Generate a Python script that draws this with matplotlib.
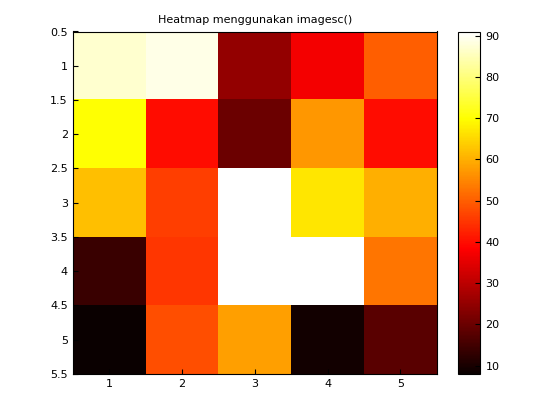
import numpy as np
import matplotlib.pyplot as plt

row1 = [87, 89, 25, 37, 50]
row2 = [70, 40, 20, 57, 40]
row3 = [62, 46, 91, 67, 60]
row4 = [14, 45, 91, 91, 53]
row5 = [8, 48, 58, 9, 18]
data = np.array([row1, row2, row3, row4, row5])

fig = plt.figure(figsize=(5.6, 4.2), dpi=100)
ax = fig.add_axes([0.13, 0.11, 0.65, 0.815])
im = ax.imshow(data, cmap='hot', aspect='auto', interpolation='nearest',
               extent=[0.5, 5.5, 5.5, 0.5])
ax.set_xticks([1, 2, 3, 4, 5])
ax.set_yticks(np.arange(0.5, 5.6, 0.5))
ax.set_yticklabels(['0.5', '1', '1.5', '2', '2.5', '3', '3.5', '4', '4.5', '5', '5.5'])
ax.tick_params(labelsize=8, direction='in')
ax.set_title('Heatmap menggunakan imagesc()', fontsize=8)

cax = fig.add_axes([0.818, 0.11, 0.04, 0.815])
cb = fig.colorbar(im, cax=cax)
cb.set_ticks([10, 20, 30, 40, 50, 60, 70, 80, 90])
cb.ax.tick_params(labelsize=8, direction='in')

fig.savefig('out.png')
